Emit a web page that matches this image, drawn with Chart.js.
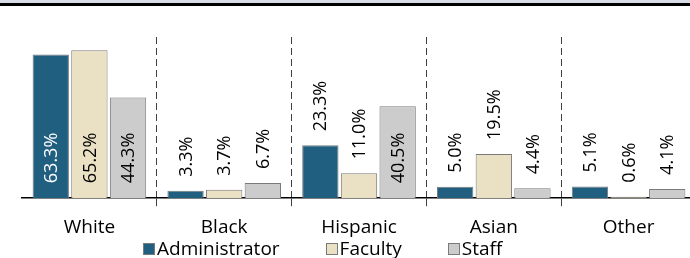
<!DOCTYPE html>
<html>
<head>
<meta charset="utf-8">
<script src="https://cdn.jsdelivr.net/npm/chart.js@4"></script>
<style>
  html, body { margin: 0; padding: 0; background: #fff; overflow: hidden; }
  #wrap { position: relative; width: 700px; height: 258px; }
  #band1 { position: absolute; left: 0; top: 0; width: 700px; height: 3px; background: #d8dce6; }
  #band2 { position: absolute; left: 0; top: 3px; width: 700px; height: 3px; background: #000; }
  #legend { position: absolute; left: 143px; top: 235px; display: flex; font: 19px "Open Sans"; color: #000; }
  #legend .item { display: flex; align-items: baseline; margin-right: 46px; white-space: nowrap; }
  #legend .box { display: inline-block; border: 1px solid #7a7a7a; margin-right: 2px; box-sizing: border-box; width: 12px; height: 12px; }
</style>
</head>
<body>
<div id="wrap">
  <canvas id="chart" width="700" height="258"></canvas>
  <div id="band1"></div>
  <div id="band2"></div>
  <div id="legend"></div>
</div>
<script>
var categories = ["White", "Black", "Hispanic", "Asian", "Other"];
var administrator = [63.3, 3.3, 23.3, 5.0, 5.1];
var faculty = [65.2, 3.7, 11.0, 19.5, 0.6];
var staff = [44.3, 6.7, 40.5, 4.4, 4.1];
var seriesNames = ["Administrator", "Faculty", "Staff"];
var seriesColors = ["#215f80", "#eae0c3", "#cccccc"];
var labelColors = ["#ffffff", "#000000", "#000000"];

// labels of tall bars sit inside, near the base
var insideMin = 30;

var barLabels = {
  id: 'barLabels',
  afterDatasetsDraw: function(chart) {
    var ctx = chart.ctx;
    var base = chart.scales.y.getPixelForValue(0);
    ctx.save();
    ctx.font = '18px "Open Sans"';
    ctx.textBaseline = 'middle';
    ctx.textAlign = 'left';
    chart.data.datasets.forEach(function(ds, i) {
      chart.getDatasetMeta(i).data.forEach(function(bar, j) {
        var v = ds.data[j];
        var txt = v.toFixed(1) + '%';
        ctx.save();
        ctx.translate(bar.x, 0);
        ctx.rotate(-Math.PI / 2);
        if (v > insideMin) {
          ctx.fillStyle = labelColors[i];
          ctx.fillText(txt, -(base - 15), 1);
        } else {
          ctx.fillStyle = '#000';
          ctx.fillText(txt, -(bar.y - 14), 1);
        }
        ctx.restore();
      });
    });
    ctx.restore();
  }
};

var n = categories.length;
function edgeHidden(c, color) {
  return (c.index === 0 || c.index === n) ? 'rgba(0,0,0,0)' : color;
}

new Chart(document.getElementById('chart').getContext('2d'), {
  type: 'bar',
  data: {
    labels: categories,
    datasets: [administrator, faculty, staff].map(function(d, i) {
      return {
        label: seriesNames[i],
        data: d,
        backgroundColor: seriesColors[i],
        borderColor: '#7a7a7a',
        borderWidth: 1,
        borderSkipped: 'bottom'
      };
    })
  },
  options: {
    responsive: false,
    devicePixelRatio: 1,
    animation: false,
    layout: { padding: { left: 22, right: 4, top: 37, bottom: 9 } },
    categoryPercentage: 0.86,
    barPercentage: 0.94,
    plugins: { legend: { display: false }, tooltip: { enabled: false } },
    scales: {
      x: {
        grid: {
          offset: true,
          color: function(c) { return edgeHidden(c, '#404040'); },
          tickColor: function(c) { return edgeHidden(c, '#404040'); },
          lineWidth: 1,
          tickBorderDash: [],
          tickLength: 8,
          drawOnChartArea: true
        },
        border: { display: true, color: '#000', width: 1.5, dash: [7, 4] },
        ticks: { font: { family: 'Open Sans', size: 19 }, color: '#000', padding: 10 }
      },
      y: {
        display: false,
        min: 0,
        max: 71
      }
    }
  },
  plugins: [barLabels]
});

var legend = document.getElementById('legend');
seriesNames.forEach(function(name, i) {
  var item = document.createElement('span');
  item.className = 'item';
  var box = document.createElement('span');
  box.className = 'box';
  box.style.background = seriesColors[i];
  item.appendChild(box);
  item.appendChild(document.createTextNode(name));
  legend.appendChild(item);
});
</script>
</body>
</html>
